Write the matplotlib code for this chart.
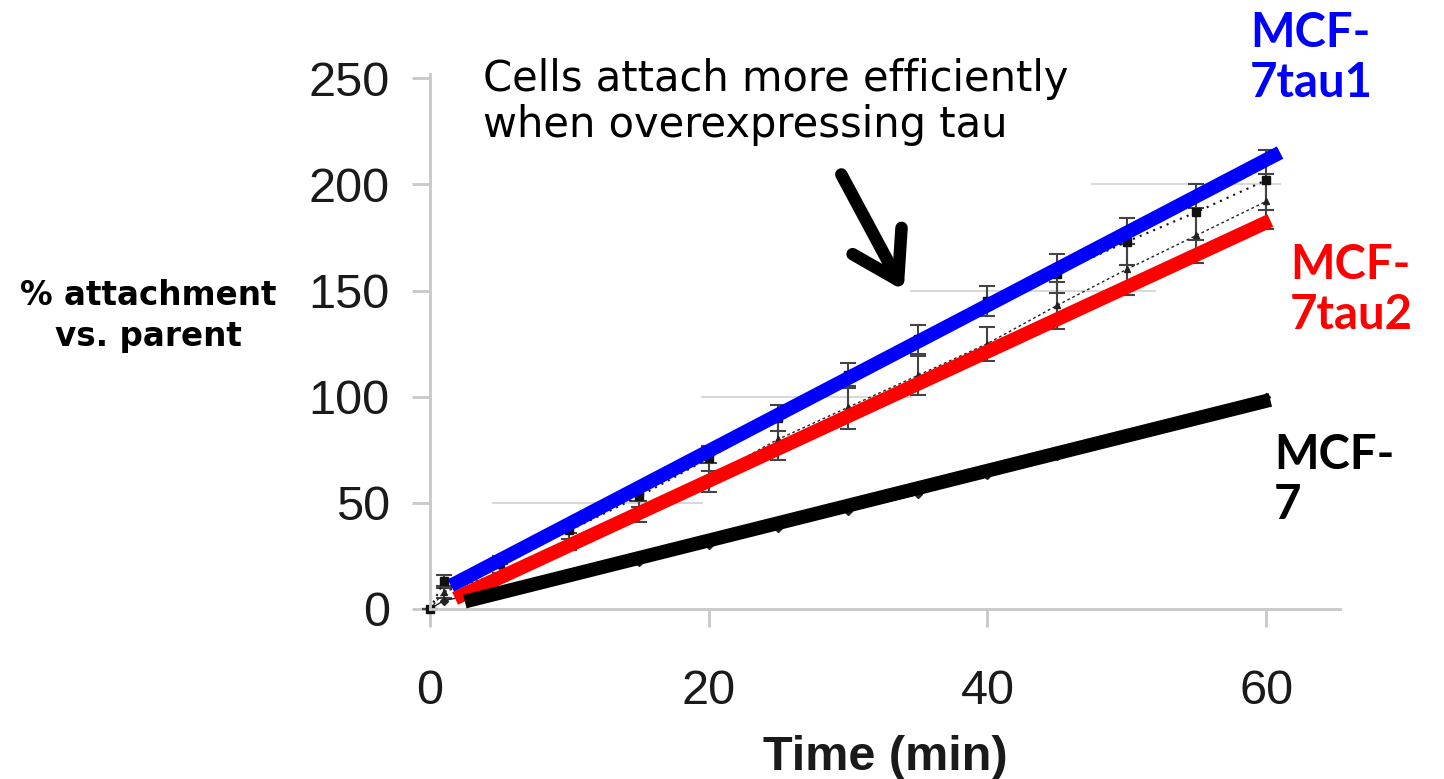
import matplotlib
matplotlib.use("Agg")
import matplotlib.pyplot as plt
from matplotlib.patches import FancyArrowPatch

# ---- data ----
time_min = [0, 1, 5, 10, 15, 20, 25, 30, 35, 40, 45, 50, 55, 60]
tau1_vals = [0, 13, 21, 37, 53, 71, 90, 110, 127, 145, 158, 173, 187, 202]
tau1_err = [0, 3, 4, 4, 5, 6, 6, 6, 7, 7, 9, 11, 13, 14]
tau2_vals = [0, 8, 17, 32, 46, 62, 80, 95, 110, 125, 143, 160, 176, 192]
tau2_err = [0, 3, 4, 4, 5, 7, 10, 10, 9, 8, 11, 12, 13, 13]
parent_vals = [0, 4, 9, 16, 22, 30, 38, 46, 54, 63, 72, 81, 91, 100]

# linear fits (start/end points of the fitted lines)
fit_x = [[1.5, 61.0], [1.8, 60.3], [2.5, 60.3]]
fit_y = [[11.0, 215.0], [5.0, 183.0], [3.5, 98.5]]
fit_colors = ["#0000ff", "#ff0000", "#000000"]

# faint partial grid segments seen in the original: (y, x_start, x_end)
grid_y = [50, 100, 150, 200]
grid_x0 = [4.5, 19.5, 34.5, 47.5]
grid_x1 = [19.5, 34.5, 52.0, 61.0]

yticks = [0, 50, 100, 150, 200, 250]
xticks = [0, 20, 40, 60]

fig = plt.figure(figsize=(14.44, 7.79), dpi=100)
ax = fig.add_axes([430/1444, 1-609/779, (1340-430)/1444, (609-74)/779])
ax.set_xlim(0, 65.3)
ax.set_ylim(0, 252)

for y, a, b in zip(grid_y, grid_x0, grid_x1):
    ax.plot([a, b], [y, y], color="#d9d9d9", lw=1.5, zorder=1)

ax.errorbar(time_min, tau2_vals, yerr=tau2_err, fmt="^", ms=5, color="#222222",
            ecolor="#444444", elinewidth=1.5, capsize=6, capthick=1.5,
            ls=(0, (2, 2)), lw=1.0, zorder=2, clip_on=False)
ax.errorbar(time_min, tau1_vals, yerr=tau1_err, fmt="s", ms=6, color="#111111",
            ecolor="#444444", elinewidth=1.5, capsize=6, capthick=1.5,
            ls=(0, (1, 2.5)), lw=1.5, zorder=2, clip_on=False)
ax.plot(time_min, parent_vals, marker="D", ms=4, color="#222222", lw=1.0,
        zorder=2, clip_on=False)

for xs, ys, c in zip(fit_x, fit_y, fit_colors):
    ax.plot(xs, ys, color=c, lw=10, solid_capstyle="butt", zorder=4, clip_on=False)

for s in ["top", "right"]:
    ax.spines[s].set_visible(False)
for s in ["left", "bottom"]:
    ax.spines[s].set_color("#c8c8c8")
    ax.spines[s].set_linewidth(2)

ax.set_yticks(yticks)
ax.set_xticks(xticks)
ax.tick_params(axis="both", direction="out", length=13, width=2, color="#c8c8c8",
               labelsize=35, labelcolor="#1a1a1a")
ax.tick_params(axis="y", pad=16)
ax.tick_params(axis="x", pad=30)
for lab in ax.get_xticklabels() + ax.get_yticklabels():
    lab.set_family("Liberation Sans")

fig.text(885/1444, 1-757/779, "Time (min)", ha="center", va="center",
         fontsize=35, fontweight="bold", family="Liberation Sans", color="#1a1a1a")

fig.text(148/1444, 1-316/779, "% attachment\nvs. parent", ha="center", va="center",
         fontsize=23.5, fontweight="bold", family="DejaVu Sans", linespacing=1.3)

fig.text(483/1444, 1-102/779, "Cells attach more efficiently\nwhen overexpressing tau",
         ha="left", va="center", fontsize=30, family="DejaVu Sans", linespacing=1.15)

fig.text(1250/1444, 1-58/779, "MCF-\n7tau1", ha="left", va="center", fontsize=34,
         fontweight="bold", family="Lato", color="#0000ff", linespacing=1.15)
fig.text(1290/1444, 1-290/779, "MCF-\n7tau2", ha="left", va="center", fontsize=34,
         fontweight="bold", family="Lato", color="#ff0000", linespacing=1.15)
fig.text(1274/1444, 1-480/779, "MCF-\n7", ha="left", va="center", fontsize=34,
         fontweight="bold", family="Lato", color="#000000", linespacing=1.15)

arrow = FancyArrowPatch((840/1444, 1-172/779), (905/1444, 1-293/779),
                        transform=fig.transFigure, arrowstyle="->,head_length=1.6,head_width=1.0",
                        lw=9, color="black", capstyle="round", joinstyle="round",
                        mutation_scale=20)
fig.patches.append(arrow)

fig.savefig("out.png", dpi=100)
